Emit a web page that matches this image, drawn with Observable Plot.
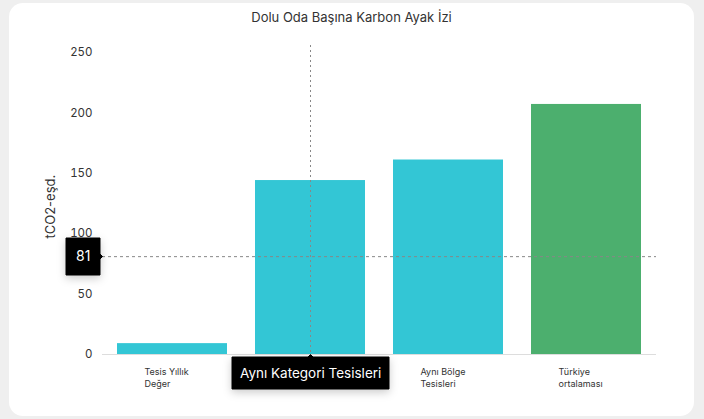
<!DOCTYPE html>
<html>
<head>
<meta charset="utf-8">
<script src="https://cdn.jsdelivr.net/npm/d3@7"></script>
<script src="https://cdn.jsdelivr.net/npm/@observablehq/plot@0.6"></script>
<style>
  html, body { margin: 0; padding: 0; }
  body { width: 704px; height: 419px; background: #efefef; position: relative; overflow: hidden; font-family: Inter, "Noto Sans", sans-serif; }
  #card { position: absolute; left: 9px; top: 3px; width: 685px; height: 413px; background: #fff; border-radius: 14px; overflow: hidden; }
  #title { height: 28px; line-height: 28px; text-align: center; font-size: 13px; color: #333; }
  #chart svg { display: block; overflow: visible; }
  g[aria-label="tip"] text, g[aria-label="tip"] tspan { fill: #fff; }
</style>
</head>
<body>
<div id="card">
  <div id="title">Dolu Oda Başına Karbon Ayak İzi</div>
  <div id="chart"></div>
</div>
<script>
const categories = ["Tesis Yıllık Değer", "Aynı Kategori Tesisleri", "Aynı Bölge Tesisleri", "Türkiye ortalaması"];
const tickLabels = ["Tesis Yıllık\nDeğer", "Aynı Kategori\nTesisleri", "Aynı Bölge\nTesisleri", "Türkiye\nortalaması"];
const values = [9, 144, 161, 207];
const barColors = ["#33c6d5", "#33c6d5", "#33c6d5", "#4caf6e"];
const yTicks = [0, 50, 100, 150, 200, 250];
const referenceValue = 81;
const hoveredCategory = "Aynı Kategori Tesisleri";
const yLabel = "tCO2-eşd.";

const data = categories.map((c, i) => ({category: c, value: values[i], color: barColors[i]}));

const chart = Plot.plot({
  width: 685,
  height: 385,
  marginTop: 21,
  marginBottom: 62,
  marginLeft: 93,
  marginRight: 38,
  style: {fontFamily: "Inter, 'Noto Sans', sans-serif", color: "#333", background: "transparent"},
  x: {domain: categories, paddingInner: 0.2, paddingOuter: 0.1},
  y: {domain: [0, 250]},
  marks: [
    Plot.barY(data, {x: "category", y: "value", fill: "color"}),
    Plot.ruleY([0], {stroke: "#ddd"}),
    Plot.ruleY([referenceValue], {stroke: "#888", strokeDasharray: "3,3", strokeWidth: 1}),
    Plot.ruleX([hoveredCategory], {x: d => d, stroke: "#888", strokeDasharray: "2,3", strokeWidth: 1, insetTop: -7}),
    Plot.axisY({ticks: yTicks, tickSize: 0, tickPadding: 10, fontSize: 11.5, label: null}),
    Plot.text([yLabel], {text: d => d, frameAnchor: "left", rotate: -90, dx: -52, dy: 35, fontSize: 13, fill: "#333"}),
    Plot.axisX({tickSize: 0, tickPadding: 12, fontSize: 9, textAnchor: "start", dx: -28, lineHeight: 1.33, label: null,
      tickFormat: d => tickLabels[categories.indexOf(d)]}),
    Plot.tip([hoveredCategory], {x: d => d, y: () => 0, title: d => d, anchor: "top", fill: "#000", stroke: "#000",
      fontSize: 13.5, textPadding: 8, pointerSize: 5}),
    Plot.tip([referenceValue], {y: d => d, frameAnchor: "left", title: d => String(d), anchor: "right", fill: "#000", stroke: "#000",
      fontSize: 14, textPadding: 10, pointerSize: 5})
  ]
});
document.getElementById("chart").appendChild(chart);
</script>
</body>
</html>
